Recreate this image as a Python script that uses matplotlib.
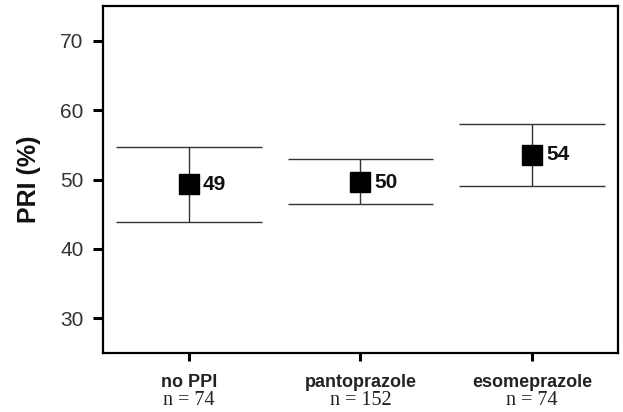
import numpy as np
import matplotlib
matplotlib.use("Agg")
import matplotlib.pyplot as plt
from matplotlib.transforms import blended_transform_factory

# data
groups = ["no PPI", "pantoprazole", "esomeprazole"]
group_n = [74, 152, 74]
means = [49.3, 49.6, 53.6]
upper = [54.7, 52.9, 58.0]
lower = [43.9, 46.4, 49.1]
mean_labels = ["49", "50", "54"]

plt.rcParams['font.family'] = ['Liberation Sans', 'DejaVu Sans']

fig = plt.figure(figsize=(6.23, 4.12), dpi=100)
ax = fig.add_axes([0.1653, 0.1432, 0.8267, 0.8422])

x = np.arange(len(groups))
line_col = '#333333'

# vertical error lines and wide caps
ax.vlines(x, lower, upper, color=line_col, lw=1.0, zorder=2)
ax.hlines(upper, x - 0.425, x + 0.425, color=line_col, lw=1.0, zorder=2)
ax.hlines(lower, x - 0.425, x + 0.425, color=line_col, lw=1.0, zorder=2)
ax.plot(x, means, 's', color='black', markersize=14, zorder=3)

for xi, m, lab in zip(x, means, mean_labels):
    ax.annotate(lab, (xi, m), xytext=(10, 0), textcoords='offset points',
                ha='left', va='center', fontsize=15, fontweight='bold',
                color='#111111')

ax.set_xlim(-0.5, 2.5)
ax.set_ylim(25, 75)
ax.set_yticks([30, 40, 50, 60, 70])
ax.set_xticks(x)
ax.set_xticklabels(groups, fontsize=13, fontweight='bold', color='#222222')
ax.tick_params(axis='y', labelsize=15, length=7, width=2.2, pad=7, labelcolor='#333333')
ax.tick_params(axis='x', length=6, width=2.2, pad=9)
for sp in ax.spines.values():
    sp.set_linewidth(1.6)

trans = blended_transform_factory(ax.transData, ax.transAxes)
for xi, n in zip(x, group_n):
    ax.text(xi, -0.11, f"n = {n}", transform=trans, ha='center', va='top',
            fontsize=14.5, family=['Liberation Serif', 'DejaVu Serif'],
            color='#222222')

ax.set_ylabel("PRI (%)", fontsize=18, fontweight='bold', labelpad=14,
              color='#111111')

fig.savefig("out.png", dpi=100)
